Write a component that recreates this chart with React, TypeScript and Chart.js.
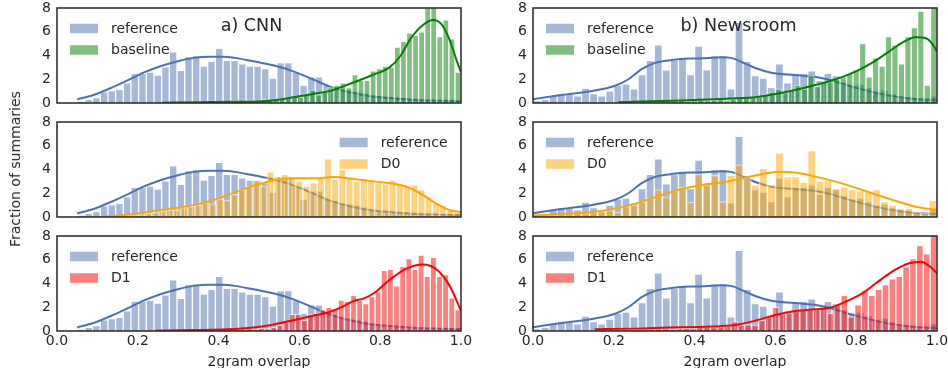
import React, { useEffect, useRef } from 'react';
import { Chart, registerables } from 'chart.js';

Chart.register(...registerables);

const FONT = "'DejaVu Sans', sans-serif";
const TEXT = '#262626';

// ---------- tick labels ----------
const X_TICK_VALUES = [0, 0.2, 0.4, 0.6, 0.8, 1.0];
const X_TICK_LABELS = ['0.0', '0.2', '0.4', '0.6', '0.8', '1.0'];
const Y_TICK_VALUES = [0, 2, 4, 6, 8];
const Y_TICK_LABELS = ['0', '2', '4', '6', '8'];

const X_LABEL = '2gram overlap';
const Y_LABEL = 'Fraction of summaries';
const TITLES = ['a) CNN', 'b) Newsroom'];

// ---------- CNN ----------
const CNN_REF_BIN_START = 0.05;
const CNN_REF_BIN_WIDTH = 0.019;
const CNN_REF_HIST = [
  0.15, 0.3, 0.45, 0.95, 1.05, 1.15, 1.7, 2.5, 2.5, 2.6,
  2.35, 3.05, 4.3, 2.75, 3.9, 4.0, 3.1, 3.5, 4.6, 3.6,
  3.6, 3.3, 3.1, 3.1, 2.9, 2.1, 3.4, 3.4, 2.6, 1.5,
  2.2, 2.2, 1.5, 1.4, 1.2, 1.1, 1.0, 0.85, 0.7, 0.6,
  0.5, 0.45, 0.35, 0.3, 0.25, 0.2, 0.15, 0.12, 0.1, 0.05,
];
const CNN_REF_KDE_X = [0.05, 0.09, 0.132, 0.173, 0.214, 0.256, 0.297, 0.338, 0.38, 0.41, 0.44, 0.48, 0.51, 0.55, 0.59, 0.633, 0.674, 0.724, 0.78, 0.83, 0.88, 0.94, 1.0];
const CNN_REF_KDE_Y = [0.3, 0.67, 1.24, 1.88, 2.56, 3.1, 3.5, 3.8, 3.9, 3.9, 3.8, 3.55, 3.35, 3.05, 2.6, 2.0, 1.4, 0.9, 0.55, 0.4, 0.28, 0.2, 0.15];

const CNN_BASE_BIN_START = 0.25;
const CNN_BASE_BIN_WIDTH = 0.015;
const CNN_BASE_HIST = [
  0.05, 0.0, 0.05, 0.05, 0.1, 0.05, 0.1, 0.1, 0.15, 0.1,
  0.15, 0.1, 0.2, 0.15, 0.2, 0.25, 0.2, 0.3, 0.25, 0.35,
  0.4, 0.45, 0.6, 0.5, 0.8, 1.1, 0.7, 1.0, 1.3, 1.5,
  1.7, 1.3, 2.4, 1.9, 1.9, 2.7, 2.9, 3.1, 3.0, 4.7,
  5.2, 5.9, 5.7, 6.0, 8.0, 8.3, 5.6, 7.0, 5.4, 2.6,
];
const CNN_BASE_KDE_X = [0.26, 0.35, 0.43, 0.51, 0.59, 0.64, 0.674, 0.724, 0.781, 0.823, 0.851, 0.873, 0.9, 0.93, 0.95, 0.972, 0.99, 1.0];
const CNN_BASE_KDE_Y = [0.02, 0.06, 0.1, 0.15, 0.5, 0.8, 1.0, 1.6, 2.36, 3.0, 4.0, 5.3, 6.4, 7.0, 6.7, 5.3, 3.5, 2.6];

const CNN_D0_BIN_START = 0.11;
const CNN_D0_BIN_WIDTH = 0.0178;
const CNN_D0_HIST = [
  0.05, 0.1, 0.1, 0.15, 0.2, 0.2, 0.3, 0.4, 0.5, 0.6,
  0.6, 0.8, 0.9, 1.0, 1.2, 1.1, 1.5, 1.4, 1.9, 2.3,
  2.6, 3.1, 2.6, 3.8, 3.4, 3.6, 3.3, 3.0, 2.6, 2.9,
  3.3, 4.9, 3.2, 4.0, 3.4, 3.0, 3.2, 3.1, 2.9, 2.8,
  3.1, 2.8, 2.6, 2.7, 2.3, 1.7, 1.2, 1.0, 0.6, 0.4,
];
const CNN_D0_KDE_X = [0.115, 0.2, 0.256, 0.338, 0.388, 0.438, 0.487, 0.537, 0.587, 0.636, 0.686, 0.735, 0.785, 0.85, 0.88, 0.91, 0.94, 0.97, 1.0];
const CNN_D0_KDE_Y = [0.02, 0.3, 0.59, 1.0, 1.43, 2.05, 2.64, 3.1, 3.26, 3.26, 3.37, 3.2, 3.0, 2.7, 2.35, 1.75, 1.1, 0.6, 0.4];

const CNN_D1_BIN_START = 0.24;
const CNN_D1_BIN_WIDTH = 0.0152;
const CNN_D1_HIST = [
  0.05, 0.05, 0.0, 0.1, 0.05, 0.1, 0.1, 0.05, 0.1, 0.15,
  0.1, 0.15, 0.1, 0.2, 0.15, 0.2, 0.15, 0.25, 0.2, 0.3,
  0.5, 0.7, 1.4, 1.4, 0.9, 1.4, 1.5, 1.8, 2.0, 1.9,
  2.6, 2.5, 3.0, 2.6, 2.3, 2.9, 3.3, 5.1, 5.2, 3.8,
  5.45, 6.1, 5.2, 6.4, 4.6, 6.2, 4.6, 4.75, 2.8, 1.8,
];
const CNN_D1_KDE_X = [0.243, 0.338, 0.421, 0.487, 0.537, 0.591, 0.636, 0.674, 0.71, 0.732, 0.76, 0.785, 0.823, 0.865, 0.906, 0.939, 0.972, 1.0];
const CNN_D1_KDE_Y = [0.03, 0.08, 0.14, 0.3, 0.55, 0.95, 1.3, 1.6, 2.1, 2.5, 2.75, 3.2, 4.3, 5.25, 5.6, 5.2, 3.8, 1.7];

// ---------- Newsroom ----------
const NR_REF_BIN_START = 0.0;
const NR_REF_BIN_WIDTH = 0.02;
const NR_REF_HIST = [
  0.2, 0.3, 0.65, 0.8, 0.8, 0.6, 1.25, 0.8, 0.6, 1.0,
  1.5, 1.6, 1.2, 2.4, 3.6, 4.9, 2.8, 3.6, 3.85, 2.4,
  4.8, 2.8, 4.0, 4.0, 1.2, 6.8, 3.5, 2.3, 2.1, 1.3,
  3.3, 1.7, 2.4, 2.5, 2.7, 1.9, 2.5, 2.3, 1.8, 1.5,
  1.6, 1.3, 1.0, 1.1, 0.8, 0.6, 0.5, 0.4, 0.3, 0.6,
];
const NR_REF_KDE_X = [0.0, 0.07, 0.153, 0.203, 0.236, 0.269, 0.302, 0.343, 0.385, 0.426, 0.467, 0.49, 0.52, 0.55, 0.59, 0.649, 0.707, 0.74, 0.782, 0.831, 0.881, 0.939, 1.0];
const NR_REF_KDE_Y = [0.32, 0.67, 1.05, 1.45, 2.0, 2.85, 3.38, 3.62, 3.74, 3.76, 3.85, 3.8, 3.4, 2.95, 2.55, 2.35, 2.15, 1.9, 1.45, 1.0, 0.62, 0.35, 0.25];

const NR_BASE_BIN_START = 0.2;
const NR_BASE_BIN_WIDTH = 0.016;
const NR_BASE_HIST = [
  0.05, 0.05, 0.1, 0.05, 0.1, 0.1, 0.15, 0.1, 0.15, 0.15,
  0.2, 0.15, 0.2, 0.25, 0.2, 0.25, 0.3, 0.2, 0.35, 0.4,
  0.5, 0.5, 0.55, 0.7, 0.95, 1.2, 0.9, 1.1, 1.5, 1.2,
  2.3, 1.4, 1.8, 1.8, 2.0, 2.2, 2.5, 2.8, 5.0, 2.2,
  3.8, 3.1, 5.6, 4.9, 3.3, 5.6, 6.35, 7.75, 1.5, 8.3,
];
const NR_BASE_KDE_X = [0.211, 0.318, 0.401, 0.484, 0.55, 0.6, 0.649, 0.699, 0.749, 0.798, 0.84, 0.881, 0.914, 0.947, 0.972, 0.988, 1.0];
const NR_BASE_KDE_Y = [0.06, 0.17, 0.25, 0.37, 0.48, 0.76, 1.1, 1.52, 2.0, 2.64, 3.4, 4.33, 5.08, 5.53, 5.45, 5.0, 4.33];

const NR_D0_BIN_START = 0.0;
const NR_D0_BIN_WIDTH = 0.02;
const NR_D0_HIST = [
  0.1, 0.15, 0.2, 0.25, 0.3, 0.3, 0.35, 0.4, 0.5, 0.55,
  0.4, 0.9, 1.0, 1.3, 1.6, 2.3, 1.7, 2.2, 2.55, 1.25,
  3.6, 2.7, 3.5, 1.3, 3.5, 4.4, 3.26, 2.7, 4.1, 2.7,
  5.4, 3.4, 3.4, 2.95, 5.6, 3.0, 3.1, 2.4, 2.55, 2.3,
  2.2, 2.15, 2.3, 1.3, 1.0, 0.75, 0.75, 0.45, 0.35, 1.4,
];
const NR_D0_KDE_X = [0.0, 0.07, 0.153, 0.236, 0.318, 0.368, 0.418, 0.467, 0.517, 0.566, 0.608, 0.649, 0.699, 0.749, 0.798, 0.848, 0.898, 0.947, 1.0];
const NR_D0_KDE_Y = [0.12, 0.25, 0.45, 0.96, 1.85, 2.36, 2.7, 2.9, 3.26, 3.6, 3.82, 3.74, 3.4, 2.98, 2.47, 1.9, 1.35, 0.87, 0.6];

const NR_D1_BIN_START = 0.15;
const NR_D1_BIN_WIDTH = 0.017;
const NR_D1_HIST = [
  0.05, 0.1, 0.05, 0.1, 0.1, 0.15, 0.1, 0.1, 0.15, 0.1,
  0.2, 0.15, 0.2, 0.25, 0.2, 0.3, 0.35, 0.3, 0.35, 0.4,
  0.8, 0.5, 0.55, 0.5, 0.9, 1.15, 2.0, 1.45, 1.5, 1.7,
  1.85, 1.8, 1.8, 1.9, 1.5, 2.2, 3.0, 1.2, 2.2, 3.45,
  3.0, 3.5, 3.9, 4.4, 4.6, 5.4, 6.1, 7.2, 6.5, 8.3,
];
const NR_D1_KDE_X = [0.153, 0.25, 0.318, 0.442, 0.5, 0.55, 0.6, 0.649, 0.699, 0.74, 0.782, 0.815, 0.848, 0.889, 0.931, 0.96, 0.984, 1.0];
const NR_D1_KDE_Y = [0.14, 0.2, 0.28, 0.37, 0.5, 0.87, 1.35, 1.69, 1.83, 2.0, 2.6, 3.17, 4.0, 5.0, 5.7, 5.84, 5.4, 4.86];

// ---------- styles ----------
const BLUE = { line: '#4C72B0', fill: 'rgba(76,114,176,0.5)' };
const GREEN = { line: '#008000', fill: 'rgba(0,128,0,0.5)' };
const ORANGE = { line: '#FFA500', fill: 'rgba(255,165,0,0.5)' };
const RED = { line: '#FF0000', fill: 'rgba(255,0,0,0.5)' };

type Series = {
  label: string; line: string; fill: string;
  binStart: number; binWidth: number; hist: number[];
  kdeX: number[]; kdeY: number[];
};

const mk = (label: string, st: { line: string; fill: string }, binStart: number, binWidth: number, hist: number[], kdeX: number[], kdeY: number[]): Series =>
  ({ label, line: st.line, fill: st.fill, binStart, binWidth, hist, kdeX, kdeY });

const CNN_REF = mk('reference', BLUE, CNN_REF_BIN_START, CNN_REF_BIN_WIDTH, CNN_REF_HIST, CNN_REF_KDE_X, CNN_REF_KDE_Y);
const CNN_BASE = mk('baseline', GREEN, CNN_BASE_BIN_START, CNN_BASE_BIN_WIDTH, CNN_BASE_HIST, CNN_BASE_KDE_X, CNN_BASE_KDE_Y);
const CNN_D0 = mk('D0', ORANGE, CNN_D0_BIN_START, CNN_D0_BIN_WIDTH, CNN_D0_HIST, CNN_D0_KDE_X, CNN_D0_KDE_Y);
const CNN_D1 = mk('D1', RED, CNN_D1_BIN_START, CNN_D1_BIN_WIDTH, CNN_D1_HIST, CNN_D1_KDE_X, CNN_D1_KDE_Y);
const NR_REF = mk('reference', BLUE, NR_REF_BIN_START, NR_REF_BIN_WIDTH, NR_REF_HIST, NR_REF_KDE_X, NR_REF_KDE_Y);
const NR_BASE = mk('baseline', GREEN, NR_BASE_BIN_START, NR_BASE_BIN_WIDTH, NR_BASE_HIST, NR_BASE_KDE_X, NR_BASE_KDE_Y);
const NR_D0 = mk('D0', ORANGE, NR_D0_BIN_START, NR_D0_BIN_WIDTH, NR_D0_HIST, NR_D0_KDE_X, NR_D0_KDE_Y);
const NR_D1 = mk('D1', RED, NR_D1_BIN_START, NR_D1_BIN_WIDTH, NR_D1_HIST, NR_D1_KDE_X, NR_D1_KDE_Y);

type PanelDef = { col: number; row: number; ref: Series; other: Series; title?: string; legendRight?: boolean };

const PANELS: PanelDef[] = [
  { col: 0, row: 0, ref: CNN_REF, other: CNN_BASE, title: TITLES[0] },
  { col: 0, row: 1, ref: CNN_REF, other: CNN_D0, legendRight: true },
  { col: 0, row: 2, ref: CNN_REF, other: CNN_D1 },
  { col: 1, row: 0, ref: NR_REF, other: NR_BASE, title: TITLES[1] },
  { col: 1, row: 1, ref: NR_REF, other: NR_D0 },
  { col: 1, row: 2, ref: NR_REF, other: NR_D1 },
];

// ---------- layout (page pixels) ----------
const COL_CANVAS_LEFT = [0, 470];
const COL_CANVAS_WIDTH = [485, 478];
const COL_AREA_LEFT = [57, 63];
const COL_AREA_RIGHT_PAD = [24, 11];
const COL_TITLE_CX = [251.5, 738.5];
const ROW_TOP = [8, 122, 236];
const AREA_H = 95;
const TOP_PAD = 8;
const ROW_BOTTOM_EXTRA = [8, 8, 37];

function histPoints(s: Series) {
  return s.hist.map((v, i) => ({ x: s.binStart + s.binWidth * (i + 0.5), y: v }));
}
function kdePoints(s: Series) {
  return s.kdeX.map((x, i) => ({ x, y: s.kdeY[i] }));
}

function barDs(s: Series, axis: string, order: number) {
  return {
    type: 'bar' as const,
    label: s.label,
    data: histPoints(s),
    xAxisID: axis,
    yAxisID: 'y',
    backgroundColor: s.fill,
    borderColor: 'rgba(255,255,255,0.55)',
    borderWidth: 1,
    barPercentage: 1,
    categoryPercentage: 1,
    grouped: false,
    order,
  };
}
function lineDs(s: Series, order: number) {
  return {
    type: 'line' as const,
    label: s.label + ' kde',
    data: kdePoints(s),
    xAxisID: 'x',
    yAxisID: 'y',
    borderColor: s.line,
    borderWidth: 2,
    pointRadius: 0,
    fill: false,
    cubicInterpolationMode: 'monotone' as const,
    order,
  };
}

function buildConfig(p: PanelDef, canvasLeft: number, canvasTop: number) {
  const isBottom = p.row === 2;
  const bottomExtra = ROW_BOTTOM_EXTRA[p.row];
  const areaLeft = COL_AREA_LEFT[p.col];

  const decor = {
    id: 'panelDecor',
    afterDraw(chart: any) {
      const { ctx, chartArea: a } = chart;
      ctx.save();
      ctx.strokeStyle = TEXT;
      ctx.lineWidth = 1.5;
      ctx.strokeRect(a.left, a.top, a.right - a.left, a.bottom - a.top);
      if (p.title) {
        ctx.font = `17.5px ${FONT}`;
        ctx.fillStyle = TEXT;
        ctx.textAlign = 'center';
        ctx.textBaseline = 'alphabetic';
        ctx.fillText(p.title, COL_TITLE_CX[p.col] - canvasLeft, 30.5 - canvasTop);
      }
      const items = [p.ref, p.other];
      ctx.font = `14px ${FONT}`;
      const maxW = Math.max(...items.map((it) => ctx.measureText(it.label).width));
      const patchW = 28, patchH = 9.5, gap = 13;
      const x0 = p.legendRight ? a.right - 13.5 - (patchW + gap + maxW) : a.left + 13;
      items.forEach((it, k) => {
        const cy = a.top + 20.5 + k * 21.5;
        ctx.fillStyle = it.fill;
        ctx.fillRect(x0, cy - patchH / 2, patchW, patchH);
        ctx.fillStyle = TEXT;
        ctx.textAlign = 'left';
        ctx.textBaseline = 'middle';
        ctx.fillText(it.label, x0 + patchW + gap, cy + 0.5);
      });
      if (isBottom) {
        ctx.font = `14px ${FONT}`;
        ctx.fillStyle = TEXT;
        ctx.textAlign = 'center';
        ctx.textBaseline = 'alphabetic';
        ctx.fillText(X_LABEL, (a.left + a.right) / 2, 366 - canvasTop);
      }
      ctx.restore();
    },
  };

  return {
    type: 'bar' as const,
    data: {
      datasets: [
        barDs(p.ref, 'xr', 3),
        lineDs(p.ref, 2),
        barDs(p.other, 'xo', 1),
        lineDs(p.other, 0),
      ],
    },
    options: {
      animation: false as const,
      responsive: false,
      maintainAspectRatio: false,
      events: [] as any[],
      layout: { padding: { left: 0, right: COL_AREA_RIGHT_PAD[p.col], top: TOP_PAD, bottom: 0 } },
      plugins: { legend: { display: false }, tooltip: { enabled: false }, title: { display: false } },
      scales: {
        x: {
          type: 'linear' as const,
          position: 'bottom' as const,
          min: 0, max: 1, offset: false,
          grid: { display: false, drawTicks: false, offset: false },
          border: { display: false },
          ticks: {
            display: isBottom,
            padding: 2,
            autoSkip: false,
            maxRotation: 0,
            color: TEXT,
            font: { family: FONT, size: 14 },
            callback: (_v: any, i: number) => X_TICK_LABELS[i],
          },
          afterBuildTicks: (ax: any) => { ax.ticks = X_TICK_VALUES.map((value) => ({ value })); },
          afterFit: (ax: any) => { ax.height = bottomExtra; ax.paddingLeft = 0; ax.paddingRight = 0; },
        },
        xr: { type: 'linear' as const, display: false, min: 0, max: 1, offset: false, grid: { offset: false }, ticks: { stepSize: 0.5 } },
        xo: { type: 'linear' as const, display: false, min: 0, max: 1, offset: false, grid: { offset: false }, ticks: { stepSize: 0.5 } },
        y: {
          type: 'linear' as const,
          position: 'left' as const,
          min: 0, max: 8,
          grid: { display: false, drawTicks: false },
          border: { display: false },
          ticks: {
            padding: 6,
            color: TEXT,
            font: { family: FONT, size: 14 },
            callback: (_v: any, i: number) => Y_TICK_LABELS[i],
          },
          afterBuildTicks: (ax: any) => { ax.ticks = Y_TICK_VALUES.map((value) => ({ value })); },
          afterFit: (ax: any) => { ax.width = areaLeft; ax.paddingTop = 0; ax.paddingBottom = 0; },
        },
      },
    },
    plugins: [decor],
  };
}

function Panel({ p }: { p: PanelDef }) {
  const ref = useRef<HTMLCanvasElement>(null);
  const left = COL_CANVAS_LEFT[p.col];
  const top = ROW_TOP[p.row] - TOP_PAD;
  const width = COL_CANVAS_WIDTH[p.col];
  const height = TOP_PAD + AREA_H + ROW_BOTTOM_EXTRA[p.row];
  useEffect(() => {
    const chart = new Chart(ref.current as HTMLCanvasElement, buildConfig(p, left, top) as any);
    return () => chart.destroy();
  }, []);
  return (
    <div style={{ position: 'absolute', left, top, width, height }}>
      <canvas ref={ref} width={width} height={height} style={{ width, height, display: 'block' }} />
    </div>
  );
}

export default function App() {
  return (
    <div style={{ position: 'absolute', left: 0, top: 0, width: 948, height: 368, background: '#fff', overflow: 'hidden' }}>
      {PANELS.map((p, i) => <Panel key={i} p={p} />)}
      <div
        style={{
          position: 'absolute', left: 15, top: 169,
          transform: 'translate(-50%, -50%) rotate(-90deg)',
          font: `14px ${FONT}`, lineHeight: '14px', color: TEXT, whiteSpace: 'nowrap',
        }}
      >
        {Y_LABEL}
      </div>
    </div>
  );
}
